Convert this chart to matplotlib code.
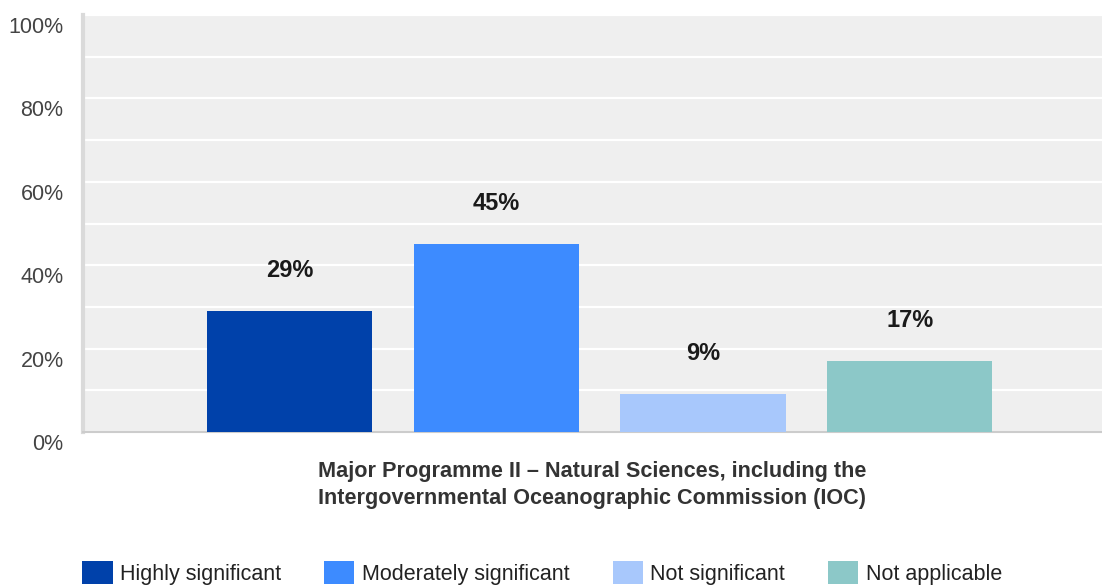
import numpy as np
import matplotlib
matplotlib.use('Agg')
import matplotlib.pyplot as plt
from matplotlib.patches import Patch
from matplotlib.transforms import ScaledTranslation

plt.rcParams['font.family'] = ['Liberation Sans', 'DejaVu Sans']

# Data
categories = ['Highly significant', 'Moderately significant', 'Not significant', 'Not applicable']
values = [29, 45, 9, 17]
colors = ['#0041AA', '#3D8BFF', '#A8C8FC', '#8CC8C8']
y_ticks = [0, 20, 40, 60, 80, 100]
y_tick_labels = ['0%', '20%', '40%', '60%', '80%', '100%']
x_title = ('Major Programme II \u2013 Natural Sciences, including the\n'
           'Intergovernmental Oceanographic Commission (IOC)')

fig = plt.figure(figsize=(11.02, 5.86), dpi=100)
ax = fig.add_axes([83 / 1102, 1 - 432 / 586, 1 - 83 / 1102, (432 - 15) / 586])
ax.set_facecolor('#EFEFEF')

x = np.arange(len(categories))
bars = ax.bar(x, values, width=0.80, color=colors, zorder=3)

# percentage labels above bars
for xi, v in zip(x, values):
    ax.annotate(f'{v}%', (xi, v), xytext=(0, 29.5), textcoords='offset points',
                ha='center', va='center', fontsize=17, fontweight='bold', color='#1A1A1A')

ax.set_xlim(-1.0, 3.93)
ax.set_ylim(0, 100)
ax.set_yticks(y_ticks)
ax.set_yticklabels(y_tick_labels, fontsize=15.5, color='#444444')
ax.set_yticks(np.arange(10, 100, 10), minor=True)
ax.grid(True, which='both', axis='y', color='white', linewidth=1.6, zorder=1)
ax.tick_params(axis='y', which='both', length=0, pad=14)
ax.set_xticks([])

# shift the y labels down a little, as in the reference
offset = ScaledTranslation(0, -10 / 100, fig.dpi_scale_trans)
for lab in ax.get_yticklabels():
    lab.set_transform(lab.get_transform() + offset)

for side in ['top', 'right']:
    ax.spines[side].set_visible(False)
ax.spines['left'].set_color('#DADADA')
ax.spines['left'].set_linewidth(3)
ax.spines['bottom'].set_color('#CCCCCC')
ax.spines['bottom'].set_linewidth(1.5)

ax.set_xlabel(x_title, fontsize=15.6, fontweight='bold', color='#333333',
              labelpad=21, linespacing=1.35)

handles = [Patch(facecolor=c, label=l) for c, l in zip(colors, categories)]
fig.legend(handles=handles, loc='center', bbox_to_anchor=(0.492, 0.022), ncol=4,
           frameon=False, fontsize=15.5, handlelength=1.4, handleheight=1.2,
           handletextpad=0.35, columnspacing=2.0, labelcolor='#222222')

fig.savefig('out.png', dpi=100)
